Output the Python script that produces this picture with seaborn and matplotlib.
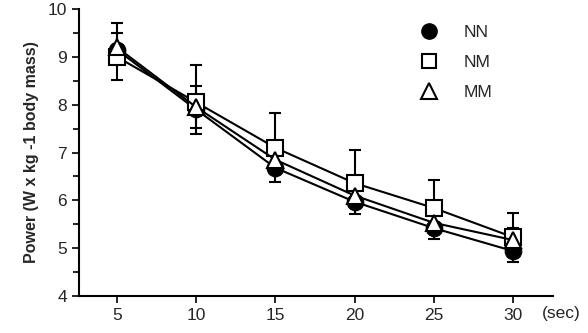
import pandas as pd
import seaborn as sns
import matplotlib.pyplot as plt
from matplotlib.lines import Line2D

# sprint time (sec) and mean power per group
seconds = [5, 10, 15, 20, 25, 30]
nn_power = [9.15, 7.90, 6.68, 5.97, 5.42, 4.94]
nm_power = [9.00, 8.05, 7.10, 6.36, 5.84, 5.23]
mm_power = [9.20, 7.95, 6.85, 6.10, 5.53, 5.17]

# error bars (SD) as drawn: NN downward, NM upward, MM both ways
nn_sd = [0.63, 0.51, 0.29, 0.25, 0.22, 0.23]
nm_sd = [0.71, 0.78, 0.72, 0.69, 0.58, 0.50]
mm_sd = [0.30, 0.43, 0.20, 0.20, 0.20, 0.25]

df = pd.DataFrame({
    "sec": seconds * 3,
    "power": nn_power + nm_power + mm_power,
    "group": ["NN"] * 6 + ["NM"] * 6 + ["MM"] * 6,
})

sns.set_style("ticks")
plt.rcParams["font.family"] = ["Liberation Sans", "DejaVu Sans"]
plt.rcParams["hatch.color"] = "#888888"
plt.rcParams["hatch.linewidth"] = 1.0

fig = plt.figure(figsize=(5.88, 3.33), dpi=100)
ax = fig.add_axes([0.134, 0.111, 0.806, 0.862])

# error bars first so markers sit on top
for vals, lo, hi in [(nn_power, nn_sd, [0] * 6),
                     (nm_power, [0] * 6, nm_sd),
                     (mm_power, mm_sd, mm_sd)]:
    ax.errorbar(seconds, vals, yerr=[lo, hi], fmt="none", ecolor="black",
                elinewidth=1.5, capsize=4, capthick=1.5, zorder=2)

sns.lineplot(data=df, x="sec", y="power", hue="group", style="group",
             hue_order=["NN", "NM", "MM"], style_order=["NN", "NM", "MM"],
             palette=["black", "black", "black"],
             markers={"NN": "o", "NM": "s", "MM": "^"}, dashes=False,
             markersize=12, linewidth=1.5, ax=ax, legend=False, zorder=3)

# restyle markers: filled circle, dotted square, open triangle
lines = ax.get_lines()[-3:]
lines[0].set_markerfacecolor("black")
lines[0].set_markeredgecolor("black")
for ln in lines[1:]:
    ln.set_markerfacecolor("white")
    ln.set_markeredgecolor("black")
    ln.set_markeredgewidth(1.5)
ax.scatter(seconds, nm_power, marker="s", s=70, facecolor="none",
           edgecolor="none", hatch=":::::", zorder=4)

ax.set_xlim(2.6, 32.5)
ax.set_ylim(4, 10)
ax.set_xticks(seconds)
ax.set_yticks([4, 5, 6, 7, 8, 9, 10])
ax.set_yticks([4.5, 5.5, 6.5, 7.5, 8.5, 9.5], minor=True)
ax.tick_params(axis="both", which="major", labelsize=12.5, length=5, width=1.2, color="black")
ax.tick_params(axis="y", which="minor", length=4, width=1.2, color="black", left=True)
ax.set_xlabel("")
ax.set_ylabel("Power (W x kg -1 body mass)", fontsize=11.5, fontweight="bold", labelpad=6)
sns.despine(ax=ax)
for sp in ["left", "bottom"]:
    ax.spines[sp].set_linewidth(1.5)
    ax.spines[sp].set_color("black")

fig.text(542 / 588, 0.06, "(sec)", fontsize=12.5, va="center", ha="left")

# legend
handles = [
    Line2D([], [], marker="o", color="none", markerfacecolor="black",
           markeredgecolor="black", markersize=11),
    Line2D([], [], marker="s", color="none", markerfacecolor="white",
           markeredgecolor="black", markeredgewidth=1.5, markersize=10),
    Line2D([], [], marker="^", color="none", markerfacecolor="white",
           markeredgecolor="black", markeredgewidth=1.5, markersize=11),
]
ax.legend(handles, ["NN", "NM", "MM"], loc="upper right", bbox_to_anchor=(0.905, 1.0),
          frameon=False, fontsize=12.5, labelspacing=0.85, handletextpad=1.0)

fig.savefig("out.png", dpi=100)
